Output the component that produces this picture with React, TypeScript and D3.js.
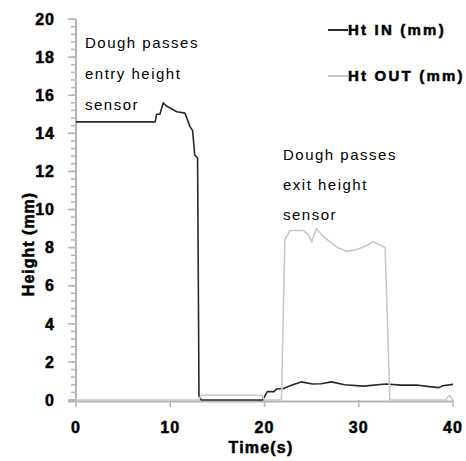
import * as d3 from "d3";

// Ht IN (mm) series: time (s) and height
const inTime = [0, 8.4, 8.55, 8.9, 9.26, 9.6, 10.7, 11.56, 12.1, 12.37, 12.6, 12.9, 13.05, 13.3, 19.8, 20.3, 21.0, 21.3, 22.0, 23.0, 23.9, 25.1, 26.0, 27.1, 28.5, 30.5, 32.9, 34.5, 36.1, 37.5, 38.5, 38.9, 40];
const inHeight = [14.6, 14.6, 15.0, 15.0, 15.6, 15.43, 15.13, 15.06, 14.35, 14.14, 12.86, 12.7, 0.2, 0, 0, 0.44, 0.44, 0.58, 0.6, 0.8, 0.95, 0.84, 0.85, 0.95, 0.8, 0.73, 0.84, 0.78, 0.79, 0.7, 0.65, 0.75, 0.82];

// Ht OUT (mm) series
const outTime = [0, 13.0, 13.3, 19.7, 20.0, 21.8, 22.16, 22.7, 24.1, 24.6, 25.0, 25.5, 26.2, 27.6, 28.7, 29.8, 30.8, 31.5, 32.4, 32.8, 33.3, 39.2, 39.6, 40];
const outHeight = [0, 0, 0.25, 0.25, 0, 0, 8.4, 8.9, 8.9, 8.7, 8.3, 9.0, 8.6, 8.05, 7.8, 7.9, 8.1, 8.3, 8.1, 8.0, 0, 0, 0.25, 0];

const xTicks = [0, 10, 20, 30, 40];
const yTicks = [0, 2, 4, 6, 8, 10, 12, 14, 16, 18, 20];
const legendLabels = ["Ht IN (mm)", "Ht OUT (mm)"];
const note1 = ["Dough passes", "entry height", "sensor"];
const note2 = ["Dough passes", "exit height", "sensor"];

export default function App() {
  const width = 466;
  const height = 461;
  const x = d3.scaleLinear().domain([0, 40]).range([76, 453]);
  const y = d3.scaleLinear().domain([0, 20]).range([400, 19]);

  const path = (ts: number[], vs: number[]) =>
    d3
      .line<number>()
      .x((d) => x(d))
      .y((d, i) => y(vs[i]))(ts) as string;

  const minor = d3.range(0, 20.001, 0.4);
  const axisColor = "#b4b4b4";
  const series = [
    { color: "#2a2a2a", d: path(inTime, inHeight) },
    { color: "#c8c8c8", d: path(outTime, outHeight) },
  ];

  // heavy bold look of the original labels
  const heavy = { fontWeight: "bold" as const, stroke: "#000", strokeWidth: 0.5 };

  return (
    <svg
      width={width}
      height={height}
      style={{ position: "absolute", left: 0, top: 0, background: "#fff" }}
      fontFamily="'Liberation Sans', Arial, sans-serif"
    >
      {/* y axis */}
      <line x1={x(0)} x2={x(0)} y1={y(20)} y2={y(0) + 2} stroke={axisColor} strokeWidth={2} />
      {minor.map((v) => (
        <line key={"m" + v} x1={x(0) - 5} x2={x(0)} y1={y(v)} y2={y(v)} stroke={axisColor} strokeWidth={1.5} />
      ))}
      {yTicks.map((v) => (
        <g key={"y" + v}>
          <line x1={x(0) - 8} x2={x(0)} y1={y(v)} y2={y(v)} stroke={axisColor} strokeWidth={1.5} />
          <text x={55} y={y(v)} dy="0.36em" textAnchor="end" fontSize={16} letterSpacing={1} {...heavy}>
            {v}
          </text>
        </g>
      ))}
      {/* x axis */}
      <line x1={x(0) - 8} x2={x(40)} y1={y(0) + 1.5} y2={y(0) + 1.5} stroke={axisColor} strokeWidth={2} />
      {xTicks.map((v) => (
        <g key={"x" + v}>
          <line x1={x(v)} x2={x(v)} y1={y(0)} y2={y(0) + 7} stroke={axisColor} strokeWidth={1.5} />
          <text x={x(v)} y={427} dy="0.36em" textAnchor="middle" fontSize={16} letterSpacing={1} {...heavy}>
            {v}
          </text>
        </g>
      ))}
      <text x={261} y={447} dy="0.36em" textAnchor="middle" fontSize={16} letterSpacing={1.2} {...heavy}>
        Time(s)
      </text>
      <text
        transform={`translate(28,${244}) rotate(-90)`}
        dy="0.36em"
        textAnchor="middle"
        fontSize={16}
        letterSpacing={1}
        {...heavy}
      >
        Height (mm)
      </text>

      {/* series */}
      {series.map((s, i) => (
        <path key={"s" + i} d={s.d} fill="none" stroke={s.color} strokeWidth={1.6} strokeLinejoin="round" />
      ))}

      {/* legend */}
      {legendLabels.map((l, i) => (
        <g key={"l" + i} transform={`translate(328,${30 + i * 46})`}>
          <line x1={0} x2={20} y1={0} y2={0} stroke={series[i].color} strokeWidth={2} />
          <text x={20} y={0} dy="0.36em" fontSize={15} letterSpacing={2.2} {...heavy}>
            {l}
          </text>
        </g>
      ))}

      {/* annotations */}
      {note1.map((t, i) => (
        <text key={"a" + i} x={85} y={43 + i * 31} dy="0.36em" fontSize={15} letterSpacing={1.5}>
          {t}
        </text>
      ))}
      {note2.map((t, i) => (
        <text key={"b" + i} x={283} y={155 + i * 30} dy="0.36em" fontSize={15} letterSpacing={1.5}>
          {t}
        </text>
      ))}
    </svg>
  );
}
